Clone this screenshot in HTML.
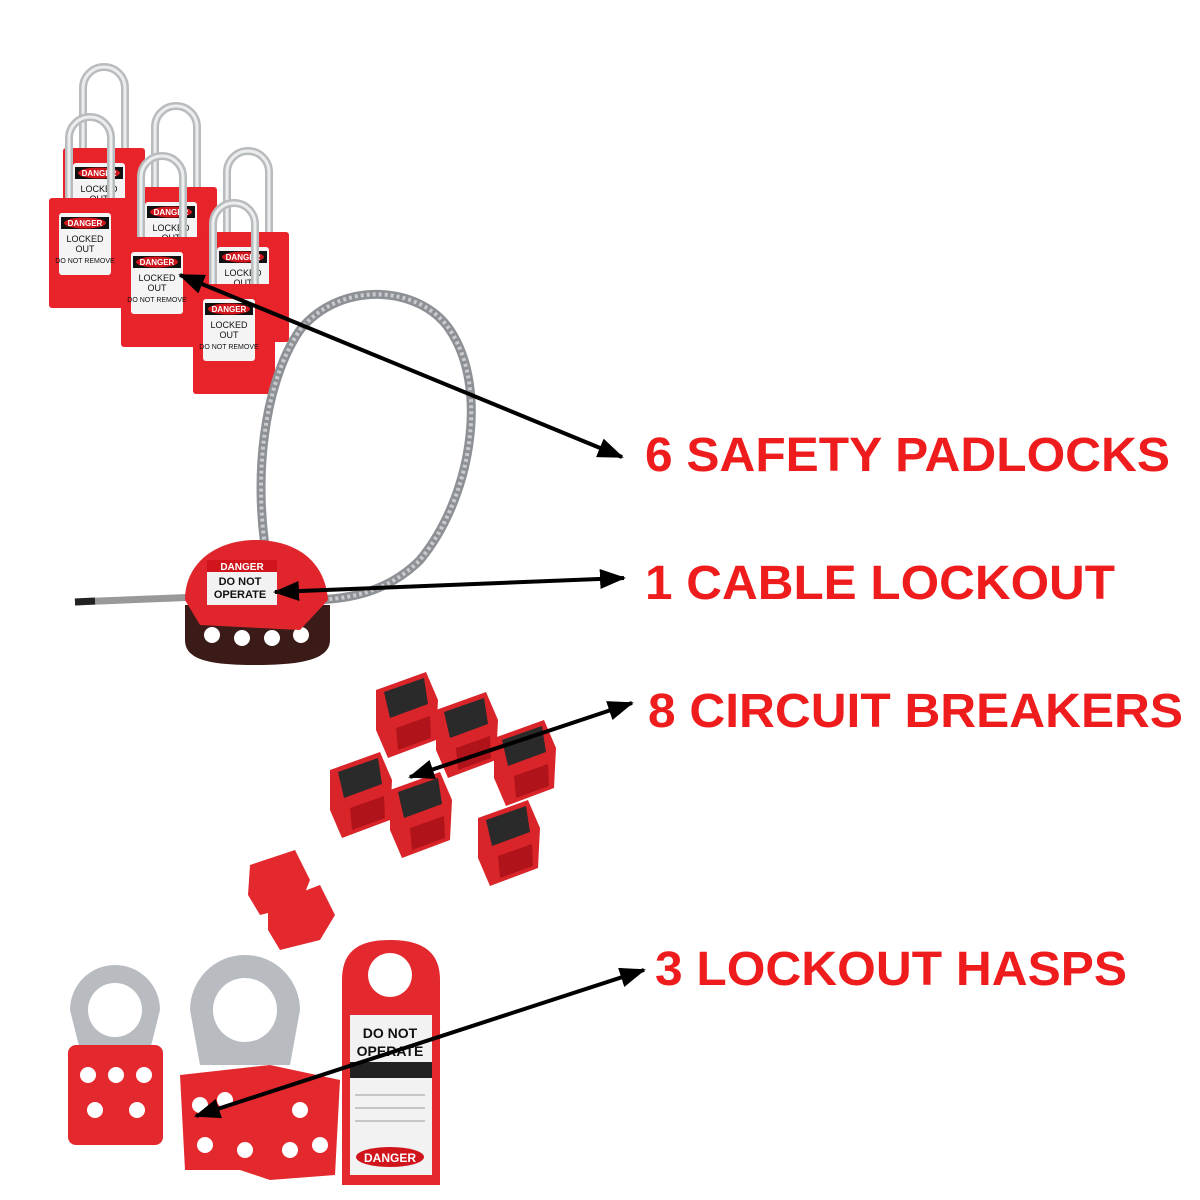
<!DOCTYPE html>
<html><head><style>
html,body{margin:0;padding:0;background:#fff;width:1200px;height:1200px;overflow:hidden}
svg{display:block}
.t{font-family:"Liberation Sans",Arial,sans-serif;font-weight:bold;fill:#ee1c1c;font-size:48px}
</style></head><body>
<svg width="1200" height="1200" viewBox="0 0 1200 1200" xmlns="http://www.w3.org/2000/svg">
<defs>
<marker id="ah" markerWidth="26" markerHeight="20" refX="24" refY="10" orient="auto-start-reverse" markerUnits="userSpaceOnUse" viewBox="0 0 26 20">
<path d="M0,0 L26,10 L0,20 z" fill="#000"/></marker>
<g id="lock">
<path d="M20,2 L20,-60 A21,21 0 0 1 62,-60 L62,2" fill="none" stroke="#b9bcbf" stroke-width="8"/>
<path d="M20,2 L20,-60 A21,21 0 0 1 62,-60 L62,2" fill="none" stroke="#eceeee" stroke-width="3"/>
<rect x="0" y="0" width="82" height="110" rx="3" fill="#e8232a"/>
<rect x="10" y="15" width="52" height="62" rx="3" fill="#f4f4f4"/>
<rect x="12" y="19" width="48" height="12" fill="#111"/>
<ellipse cx="36" cy="25" rx="21" ry="5.5" fill="#d0161c"/>
<text x="36" y="28" font-family="Liberation Sans" font-size="8" font-weight="bold" fill="#fff" text-anchor="middle">DANGER</text>
<text x="36" y="44" font-family="Liberation Sans" font-size="9" fill="#111" text-anchor="middle">LOCKED</text>
<text x="36" y="54" font-family="Liberation Sans" font-size="9" fill="#111" text-anchor="middle">OUT</text>
<text x="36" y="65" font-family="Liberation Sans" font-size="7" fill="#111" text-anchor="middle">DO NOT REMOVE</text>
</g>
<g id="brk">
<path d="M0,10 L50,-8 L62,20 L60,60 L12,78 L0,50 z" fill="#d9242a"/>
<path d="M8,12 L48,-2 L52,24 L14,38 z" fill="#2a2a2a"/>
<path d="M20,48 L54,36 L55,58 L22,70 z" fill="#b0141a"/>
</g>
</defs>

<use href="#lock" x="63" y="148"/>
<use href="#lock" x="135" y="187"/>
<use href="#lock" x="207" y="232"/>
<use href="#lock" x="49" y="198"/>
<use href="#lock" x="121" y="237"/>
<use href="#lock" x="193" y="284"/>

<path d="M270,575 C250,480 265,380 300,330 C340,280 420,285 450,330 C490,390 470,500 420,560 C380,600 330,600 300,600" fill="none" stroke="#8d9095" stroke-width="9"/>
<path d="M270,575 C250,480 265,380 300,330 C340,280 420,285 450,330 C490,390 470,500 420,560 C380,600 330,600 300,600" fill="none" stroke="#c8cacd" stroke-width="4" stroke-dasharray="3 3"/>
<line x1="75" y1="602" x2="200" y2="597" stroke="#999" stroke-width="7"/>
<line x1="75" y1="602" x2="95" y2="601" stroke="#222" stroke-width="7"/>
<path d="M185,605 L330,605 L330,640 C330,660 300,665 255,665 C210,665 185,660 185,640 z" fill="#3a1b18"/>
<circle cx="212" cy="635" r="8" fill="#fff"/><circle cx="242" cy="638" r="8" fill="#fff"/><circle cx="272" cy="638" r="8" fill="#fff"/><circle cx="301" cy="635" r="8" fill="#fff"/>
<path d="M185,600 C185,560 220,540 255,540 C295,540 325,560 328,600 L300,630 L200,625 z" fill="#e0262c"/>
<rect x="207" y="560" width="70" height="45" fill="#f2f2f2"/>
<rect x="207" y="560" width="70" height="12" fill="#d0161c"/>
<text x="242" y="570" font-family="Liberation Sans" font-size="10" font-weight="bold" fill="#fff" text-anchor="middle">DANGER</text>
<text x="240" y="585" font-family="Liberation Sans" font-size="11" font-weight="bold" fill="#111" text-anchor="middle">DO NOT</text>
<text x="240" y="598" font-family="Liberation Sans" font-size="11" font-weight="bold" fill="#111" text-anchor="middle">OPERATE</text>

<use href="#brk" x="376" y="680"/>
<use href="#brk" x="436" y="700"/>
<use href="#brk" x="494" y="728"/>
<use href="#brk" x="330" y="760"/>
<use href="#brk" x="390" y="780"/>
<use href="#brk" x="478" y="808"/>
<path d="M250,865 L295,850 L310,880 L300,905 L260,915 L248,895 z" fill="#e3282e"/>
<path d="M268,905 L320,885 L335,915 L320,940 L280,950 L268,930 z" fill="#e3282e"/>

<g>
<path d="M70,1010 A45,45 0 0 1 160,1010 L150,1050 L80,1050 z" fill="#b8bcc0"/>
<circle cx="115" cy="1010" r="27" fill="#fff"/>
<rect x="68" y="1045" width="95" height="100" rx="8" fill="#e3282e"/>
<circle cx="88" cy="1075" r="8" fill="#fff"/><circle cx="116" cy="1075" r="8" fill="#fff"/><circle cx="144" cy="1075" r="8" fill="#fff"/>
<circle cx="95" cy="1110" r="8" fill="#fff"/><circle cx="137" cy="1110" r="8" fill="#fff"/>
</g>
<g>
<path d="M190,1010 A55,55 0 0 1 300,1010 L290,1065 L200,1065 z" fill="#b8bcc0"/>
<circle cx="245" cy="1010" r="32" fill="#fff"/>
<rect x="233" y="980" width="22" height="20" fill="#fff"/>
<path d="M180,1075 L270,1065 L340,1080 L335,1175 L270,1180 L240,1170 L185,1170 z" fill="#e3282e"/>
<circle cx="200" cy="1105" r="8" fill="#fff"/><circle cx="225" cy="1100" r="8" fill="#fff"/><circle cx="300" cy="1110" r="8" fill="#fff"/>
<circle cx="205" cy="1145" r="8" fill="#fff"/><circle cx="245" cy="1150" r="8" fill="#fff"/><circle cx="290" cy="1150" r="8" fill="#fff"/><circle cx="320" cy="1145" r="8" fill="#fff"/>
</g>
<path d="M342,980 C342,950 360,940 390,940 C420,940 440,950 440,980 L440,1185 L342,1185 z" fill="#e3282e"/>
<circle cx="390" cy="975" r="22" fill="#fff"/>
<rect x="350" y="1015" width="82" height="160" fill="#f2f2f2"/>
<text x="390" y="1038" font-family="Liberation Sans" font-size="14" font-weight="bold" fill="#111" text-anchor="middle">DO NOT</text>
<text x="390" y="1056" font-family="Liberation Sans" font-size="14" font-weight="bold" fill="#111" text-anchor="middle">OPERATE</text>
<rect x="350" y="1062" width="82" height="16" fill="#222"/>
<line x1="355" y1="1095" x2="425" y2="1095" stroke="#999"/><line x1="355" y1="1108" x2="425" y2="1108" stroke="#999"/><line x1="355" y1="1121" x2="425" y2="1121" stroke="#999"/>
<ellipse cx="390" cy="1157" rx="34" ry="10" fill="#d0161c"/>
<text x="390" y="1162" font-family="Liberation Sans" font-size="12" font-weight="bold" fill="#fff" text-anchor="middle">DANGER</text>

<g stroke="#000" stroke-width="4" fill="none">
<line x1="180" y1="275" x2="622" y2="457" marker-end="url(#ah)" marker-start="url(#ah)"/>
<line x1="275" y1="592" x2="624" y2="578" marker-end="url(#ah)" marker-start="url(#ah)"/>
<line x1="410" y1="777" x2="632" y2="703" marker-end="url(#ah)" marker-start="url(#ah)"/>
<line x1="196" y1="1116" x2="644" y2="970" marker-end="url(#ah)" marker-start="url(#ah)"/>
</g>

<text class="t" x="645" y="471" textLength="525" lengthAdjust="spacingAndGlyphs">6 SAFETY PADLOCKS</text>
<text class="t" x="645" y="599" textLength="470" lengthAdjust="spacingAndGlyphs">1 CABLE LOCKOUT</text>
<text class="t" x="648" y="727" textLength="535" lengthAdjust="spacingAndGlyphs">8 CIRCUIT BREAKERS</text>
<text class="t" x="655" y="985" textLength="472" lengthAdjust="spacingAndGlyphs">3 LOCKOUT HASPS</text>
</svg>
</body></html>
